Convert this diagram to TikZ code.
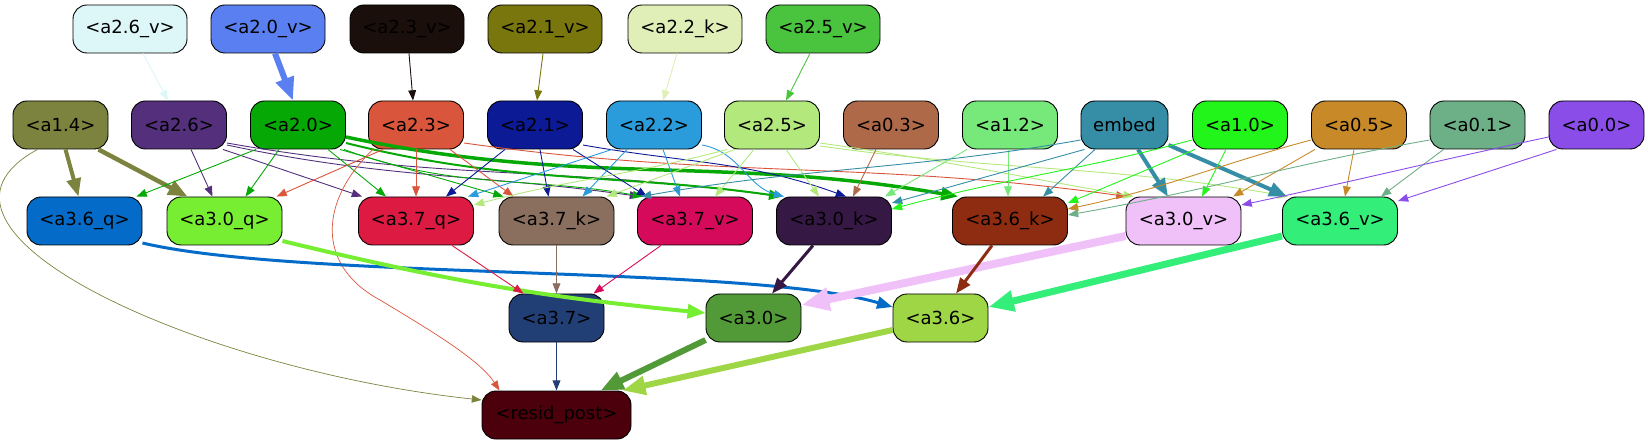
\documentclass[tikz,border=0pt]{standalone}
\usepackage{fontspec}
\setmainfont{DejaVu Sans}
\usetikzlibrary{arrows.meta}
\definecolor{c26v}{HTML}{DDF7F9}
\definecolor{c20v}{HTML}{5A7FF0}
\definecolor{c23v}{HTML}{1A0F0A}
\definecolor{c21v}{HTML}{7A760E}
\definecolor{c22k}{HTML}{E0EEB8}
\definecolor{c25v}{HTML}{4AC43E}
\definecolor{c14}{HTML}{7C833E}
\definecolor{c26}{HTML}{532F7C}
\definecolor{c20}{HTML}{06A806}
\definecolor{c23}{HTML}{D9553B}
\definecolor{c21}{HTML}{0C1A96}
\definecolor{c22}{HTML}{2A9BDB}
\definecolor{c25}{HTML}{B3E87C}
\definecolor{c03}{HTML}{AE6A48}
\definecolor{c12}{HTML}{77E87A}
\definecolor{cem}{HTML}{358DA6}
\definecolor{c10}{HTML}{22F51A}
\definecolor{c05}{HTML}{C88A28}
\definecolor{c01}{HTML}{6DAF87}
\definecolor{c00}{HTML}{8A4DE8}
\definecolor{c36q}{HTML}{046CC8}
\definecolor{c30q}{HTML}{78EE33}
\definecolor{c37q}{HTML}{DC1A42}
\definecolor{c37k}{HTML}{8A6E5E}
\definecolor{c37v}{HTML}{D60A5A}
\definecolor{c30k}{HTML}{361845}
\definecolor{c36k}{HTML}{8E2C12}
\definecolor{c30v}{HTML}{F0C0F8}
\definecolor{c36v}{HTML}{34EE7A}
\definecolor{c37}{HTML}{223F75}
\definecolor{c30}{HTML}{529A38}
\definecolor{c36}{HTML}{9ED646}
\definecolor{cres}{HTML}{4C000C}
\begin{document}
\begin{tikzpicture}[x=1pt,y=-1pt,
  box/.style={rounded corners=14pt, draw=black, line width=0.9pt, minimum height=48pt,
    inner sep=0pt, font=\fontsize{18pt}{21pt}\selectfont, text=black},
  wtop/.style={box, minimum width=114pt},
  wmid/.style={box, minimum width=95pt},
  wlow/.style={box, minimum width=115pt},
  ed/.style={draw=#1, line width=0.9pt, -{Triangle[length=8pt 2.5, width=6pt 2]}}]
\useasboundingbox (0,0) rectangle (1648,443);
% row 1
\node[wtop, fill=c26v] (a26v) at (130,29) {<a2.6\_v>};
\node[wtop, fill=c20v] (a20v) at (268,29) {<a2.0\_v>};
\node[wtop, fill=c23v] (a23v) at (407,29) {<a2.3\_v>};
\node[wtop, fill=c21v] (a21v) at (545,29) {<a2.1\_v>};
\node[wtop, fill=c22k] (a22k) at (685,29) {<a2.2\_k>};
\node[wtop, fill=c25v] (a25v) at (823,29) {<a2.5\_v>};
% row 2
\node[wmid, fill=c14] (a14) at (60.5,125) {<a1.4>};
\node[wmid, fill=c26] (a26) at (179,125) {<a2.6>};
\node[wmid, fill=c20] (a20) at (298,125) {<a2.0>};
\node[wmid, fill=c23] (a23) at (416,125) {<a2.3>};
\node[wmid, fill=c21] (a21) at (535,125) {<a2.1>};
\node[wmid, fill=c22] (a22) at (654,125) {<a2.2>};
\node[wmid, fill=c25] (a25) at (772,125) {<a2.5>};
\node[wmid, fill=c03] (a03) at (891,125) {<a0.3>};
\node[wmid, fill=c12] (a12) at (1010,125) {<a1.2>};
\node[box, minimum width=87pt, fill=cem] (emb) at (1124.5,125) {embed};
\node[wmid, fill=c10] (a10) at (1240,125) {<a1.0>};
\node[wmid, fill=c05] (a05) at (1359,125) {<a0.5>};
\node[wmid, fill=c01] (a01) at (1477.5,125) {<a0.1>};
\node[wmid, fill=c00] (a00) at (1596.5,125) {<a0.0>};
% row 3
\node[wlow, fill=c36q] (a36q) at (84.5,221) {<a3.6\_q>};
\node[wlow, fill=c30q] (a30q) at (224.5,221) {<a3.0\_q>};
\node[wlow, fill=c37q] (a37q) at (416,221) {<a3.7\_q>};
\node[wlow, fill=c37k] (a37k) at (556.5,221) {<a3.7\_k>};
\node[wlow, fill=c37v] (a37v) at (695,221) {<a3.7\_v>};
\node[wlow, fill=c30k] (a30k) at (834,221) {<a3.0\_k>};
\node[wlow, fill=c36k] (a36k) at (1010,221) {<a3.6\_k>};
\node[wlow, fill=c30v] (a30v) at (1183.5,221) {<a3.0\_v>};
\node[wlow, fill=c36v] (a36v) at (1340,221) {<a3.6\_v>};
% row 4
\node[wmid, fill=c37] (a37) at (556.5,318) {<a3.7>};
\node[wmid, fill=c30] (a30) at (753.5,318) {<a3.0>};
\node[wmid, fill=c36] (a36) at (940.5,318) {<a3.6>};
% row 5
\node[box, minimum width=149pt, fill=cres] (res) at (556.5,415) {<resid\_post>};
% ---- edges: row 1 -> row 2
\draw[ed=c26v] ([xshift=13]a26v.south) -- ([xshift=-11]a26.north);
\draw[ed=c20v, line width=6pt] ([xshift=7]a20v.south) -- ([xshift=-5]a20.north);
\draw[ed=c23v] ([xshift=2]a23v.south) -- ([xshift=-3]a23.north);
\draw[ed=c21v] ([xshift=-2]a21v.south) -- ([xshift=2]a21.north);
\draw[ed=c22k] ([xshift=-8]a22k.south) -- ([xshift=9]a22.north);
\draw[ed=c25v] ([xshift=-13]a25v.south) -- ([xshift=14]a25.north);
% a1.4
\draw[ed=c14, line width=4pt] ([xshift=5]a14.south) -- ([xshift=-6]a36q.north);
\draw[ed=c14, line width=4.5pt] ([xshift=38]a14.south) -- ([xshift=-37]a30q.north);
\draw[ed=c14, line width=0.7pt] ([xshift=-23]a14.south) .. controls (-110,230) and (200,370) .. ([yshift=15]res.west);
% a2.6
\draw[ed=c26] ([xshift=12]a26.south) -- ([xshift=-12]a30q.north);
\draw[ed=c26] ([xshift=44]a26.south) -- ([xshift=-54]a37q.north);
\draw[ed=c26] ([yshift=-20]a26.east) to[out=-12,in=172] ([xshift=-55]a37v.north);
\draw[ed=c26] ([yshift=-18]a26.east) to[out=-10,in=172] ([xshift=-54]a30k.north);
% a2.0
\draw[ed=c20] ([xshift=-42]a20.south) -- ([xshift=52]a36q.north);
\draw[ed=c20] ([xshift=-19]a20.south) -- ([xshift=21]a30q.north);
\draw[ed=c20] ([xshift=30]a20.south) -- ([xshift=-30]a37q.north);
\draw[ed=c20] ([xshift=42]a20.south) -- ([xshift=-53]a37k.north);
\draw[ed=c20] ([xshift=46]a20.south) to[out=-20,in=170] ([xshift=-52]a37v.north);
\draw[ed=c20, line width=2pt] ([yshift=-18]a20.east) to[out=-14,in=172] ([xshift=-52]a30k.north);
\draw[ed=c20, line width=3.5pt] ([yshift=-12]a20.east) to[out=-12,in=170] ([xshift=-52]a36k.north);
% a2.3
\draw[ed=c23] ([xshift=-33]a23.south) -- ([xshift=52]a30q.north);
\draw[ed=c23] (a23.south) -- (a37q.north);
\draw[ed=c23] ([xshift=34]a23.south) -- ([xshift=-43]a37k.north);
\draw[ed=c23, line width=0.7pt] ([xshift=-43]a23.south) .. controls (320,200) and (315,265) .. (380,300) .. controls (430,330) and (480,360) .. ([xshift=-57]res.north);
\draw[ed=c23] ([yshift=-18]a23.east) to[out=-8,in=172] ([xshift=-57]a30v.north);
% a2.1
\draw[ed=c21] ([xshift=-30]a21.south) -- ([xshift=30]a37q.north);
\draw[ed=c21] ([xshift=5]a21.south) -- ([xshift=-8]a37k.north);
\draw[ed=c21] ([xshift=38]a21.south) -- ([xshift=-48]a37v.north);
\draw[ed=c21] ([yshift=-20]a21.east) to[out=-10,in=160] ([xshift=12]a30k.north);
% a2.2
\draw[ed=c22] ([xshift=-42]a22.south) -- ([xshift=52]a37q.north);
\draw[ed=c22] ([xshift=-27]a22.south) -- ([xshift=26]a37k.north);
\draw[ed=c22] ([xshift=9]a22.south) -- ([xshift=-15]a37v.north);
\draw[ed=c22] ([yshift=-20]a22.east) to[out=-10,in=165] ([xshift=-50]a30k.north);
% a2.5
\draw[ed=c25] ([xshift=-45]a25.south) to[out=-165,in=15] ([yshift=16]a37q.east);
\draw[ed=c25] ([xshift=-37]a25.south) -- ([xshift=50]a37k.north);
\draw[ed=c25] ([xshift=-18]a25.south) -- ([xshift=20]a37v.north);
\draw[ed=c25] ([xshift=14]a25.south) -- ([xshift=-15]a30k.north);
\draw[ed=c25] ([yshift=-18]a25.east) to[out=-8,in=170] ([xshift=-50]a30v.north);
\draw[ed=c25] ([yshift=-21]a25.east) to[out=-8,in=170] ([xshift=-52]a36v.north);
% a0.3, a1.2
\draw[ed=c03] ([xshift=-15]a03.south) -- ([xshift=19]a30k.north);
\draw[ed=c12] ([xshift=-43]a12.south) -- ([xshift=51]a30k.north);
\draw[ed=c12] ([xshift=-2]a12.south) -- ([xshift=-2]a36k.north);
% embed
\draw[ed=cem, line width=4pt] ([xshift=13.5]emb.south) -- ([xshift=-15.5]a30v.north);
\draw[ed=cem, line width=4pt] ([yshift=-20]emb.east) -- ([xshift=-53]a36v.north);
\draw[ed=cem] ([xshift=-29.5]emb.south) -- ([xshift=33]a36k.north);
\draw[ed=cem] ([xshift=-40]emb.south) -- ([yshift=18]a30k.east);
\draw[ed=cem] ([yshift=-15]emb.west) to[out=-170,in=10] ([xshift=-54]a37v.north);
% a1.0
\draw[ed=c10] ([xshift=-14]a10.south) -- ([xshift=18.5]a30v.north);
\draw[ed=c10] ([xshift=-45]a10.south) -- ([yshift=18]a36k.east);
\draw[ed=c10] ([yshift=-15]a10.west) to[out=-165,in=15] ([yshift=12]a30k.east);
% a0.5
\draw[ed=c05] ([xshift=-44]a05.south) -- ([xshift=49.5]a30v.north);
\draw[ed=c05] ([xshift=-5]a05.south) -- ([xshift=5]a36v.north);
\draw[ed=c05] ([yshift=-15]a05.west) to[out=-165,in=12] ([yshift=12]a36k.east);
% a0.1
\draw[ed=c01] ([xshift=-34]a01.south) -- ([xshift=41]a36v.north);
\draw[ed=c01] ([yshift=-15]a01.west) to[out=-170,in=10] ([yshift=6]a36k.east);
% a0.0
\draw[ed=c00] ([yshift=-12]a00.west) to[out=-168,in=12] ([yshift=16]a30v.east);
\draw[ed=c00] ([xshift=-40]a00.south) -- ([yshift=20]a36v.east);
% row 3 -> row 4
\draw[ed=c36q, line width=3pt] ([yshift=-22]a36q.east) .. controls (300,280) and (750,265) .. ([yshift=11]a36.west);
\draw[ed=c30q, line width=4pt] ([yshift=-20]a30q.east) to[bend right=4] ([yshift=5]a30.west);
\draw[ed=c37q] ([xshift=36]a37q.south) -- ([xshift=-33]a37.north);
\draw[ed=c37k] (a37k.south) -- (a37.north);
\draw[ed=c37v] ([xshift=-34]a37v.south) -- ([xshift=37]a37.north);
\draw[ed=c30k, line width=3pt] ([xshift=-21]a30k.south) -- ([xshift=18.5]a30.north);
\draw[ed=c30v, line width=8pt] ([yshift=-15]a30v.west) -- ([yshift=13]a30.east);
\draw[ed=c36k, line width=3pt] ([xshift=-18]a36k.south) -- ([xshift=15.5]a36.north);
\draw[ed=c36v, line width=7pt] ([yshift=-15]a36v.west) -- ([yshift=11]a36.east);
% row 4 -> row 5
\draw[ed=c37] (a37.south) -- (res.north);
\draw[ed=c30, line width=6pt] ([yshift=-22]a30.west) -- ([xshift=44]res.north);
\draw[ed=c36, line width=6pt] ([yshift=-12]a36.west) -- ([xshift=66]res.north);
\end{tikzpicture}
\end{document}
